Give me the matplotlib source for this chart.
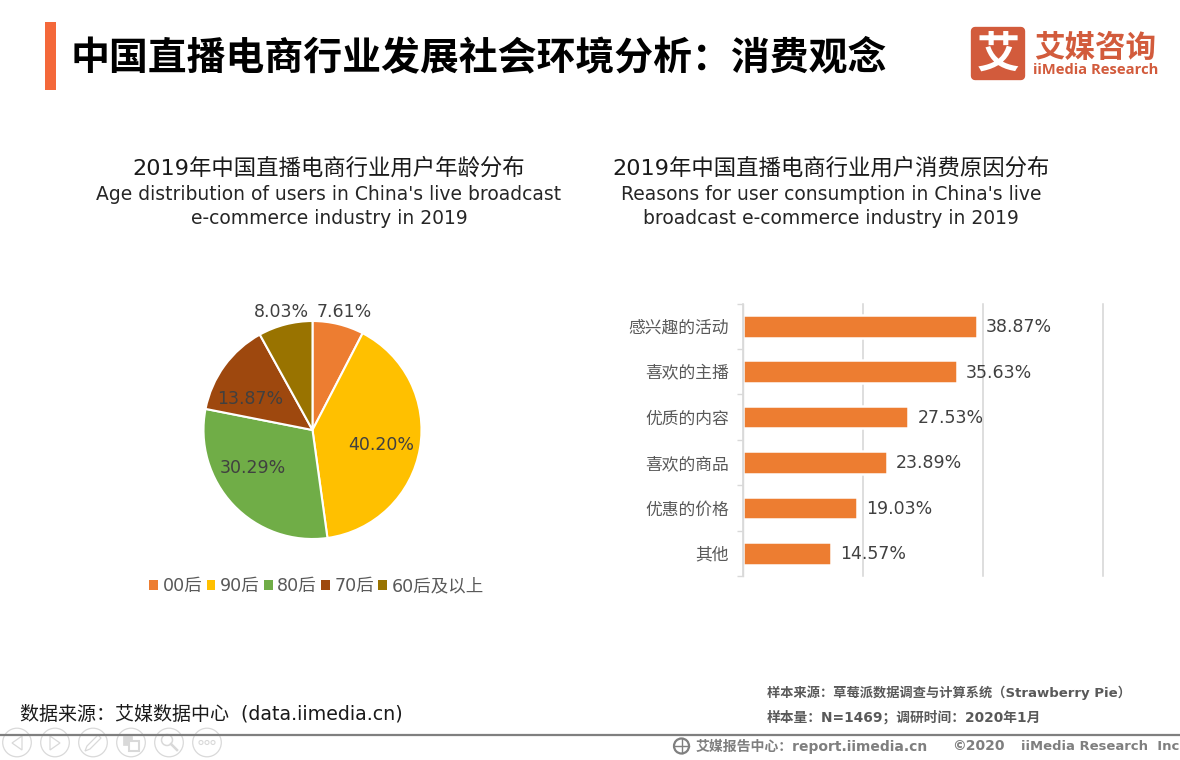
import matplotlib
matplotlib.use("Agg")
import matplotlib.pyplot as plt
from matplotlib.patches import Rectangle, FancyBboxPatch, Circle, Polygon

W, H = 1180, 760
LATIN_CJK = ['DejaVu Sans', 'Noto Sans CJK SC']
plt.rcParams['font.family'] = LATIN_CJK

# --- Data ---
AGE_LABELS = ["00后", "90后", "80后", "70后", "60后及以上"]
AGE_VALUES = [7.61, 40.20, 30.29, 13.87, 8.03]
AGE_COLORS = ["#ED7D31", "#FFC000", "#70AD47", "#9E480E", "#997300"]

REASONS = ["感兴趣的活动", "喜欢的主播", "优质的内容", "喜欢的商品", "优惠的价格", "其他"]
REASON_VALUES = [38.87, 35.63, 27.53, 23.89, 19.03, 14.57]

TITLE = "中国直播电商行业发展社会环境分析：消费观念"
LEFT_TITLE = ["2019年中国直播电商行业用户年龄分布",
              "Age distribution of users in China's live broadcast",
              "e-commerce industry in 2019"]
RIGHT_TITLE = ["2019年中国直播电商行业用户消费原因分布",
               "Reasons for user consumption in China's live",
               "broadcast e-commerce industry in 2019"]

# pie label centres in pixels
PIE_LABEL_POS = [(344, 312), (381, 445), (253, 468), (250, 399), (281, 312)]


def px_axes(fig, x0, y0, x1, y1, **kw):
    return fig.add_axes([x0 / W, 1 - y1 / H, (x1 - x0) / W, (y1 - y0) / H], **kw)


fig = plt.figure(figsize=(W / 100, H / 100), dpi=100, facecolor="white")

# overlay in pixel coords for header / footer
bg = fig.add_axes([0, 0, 1, 1])
bg.set_xlim(0, W)
bg.set_ylim(H, 0)
bg.axis("off")

# --- Header ---
bg.add_patch(Rectangle((45, 22), 11, 68, color="#F4683A", lw=0))
bg.text(71, 58, TITLE, fontsize=28, fontweight="bold", color="black",
        family="Noto Sans CJK SC", va="center", ha="left")

LOGO = "#D25B3C"
bg.add_patch(FancyBboxPatch((975, 31), 46, 45, boxstyle="round,pad=0,rounding_size=0",
                            color=LOGO, lw=6, joinstyle="round"))
bg.text(998, 55, "艾", fontsize=31, fontweight="bold", color="white",
        family="Noto Sans CJK SC", ha="center", va="center")
bg.text(1095, 48, "艾媒咨询", fontsize=22, fontweight="bold", color=LOGO,
        family="Noto Sans CJK SC", ha="center", va="center")
bg.text(1095.5, 70.5, "iiMedia Research", fontsize=10.6, fontweight="bold", color=LOGO,
        family="Open Sans", ha="center", va="center")

# --- Chart titles ---
for cx, lines in ((329, LEFT_TITLE), (831, RIGHT_TITLE)):
    bg.text(cx, 168, lines[0], fontsize=16.1, color="#1a1a1a", ha="center", va="center")
    bg.text(cx, 195, lines[1], fontsize=13.5, color="#262626", ha="center", va="center")
    bg.text(cx, 218, lines[2], fontsize=13.5, color="#262626", ha="center", va="center")

# --- Pie ---
R = 109
cx, cy = 312.5, 430
ax1 = px_axes(fig, cx - R, cy - R, cx + R, cy + R)
wedges, _ = ax1.pie(AGE_VALUES, colors=AGE_COLORS, startangle=90, counterclock=False,
                    radius=1.0, wedgeprops=dict(edgecolor="white", linewidth=1.5))
ax1.set_xlim(-1, 1)
ax1.set_ylim(-1, 1)
for val, (x, y) in zip(AGE_VALUES, PIE_LABEL_POS):
    bg.text(x, y, f"{val:.2f}%", fontsize=12.5, color="#404040", ha="center", va="center",
            zorder=5)
bg.set_zorder(3)
bg.patch.set_alpha(0)

leg = fig.legend(wedges, AGE_LABELS, ncol=5, loc="center",
                 bbox_to_anchor=(316.5 / W, 1 - 586 / H), frameon=False,
                 fontsize=12.6, labelcolor="#595959", handlelength=0.5, handleheight=0.5,
                 handletextpad=0.25, columnspacing=0.25, borderpad=0)
for h in leg.legend_handles:
    h.set_linewidth(0)

# --- Bars ---
ax2 = px_axes(fig, 743.3, 303.5, 1103.3, 576)
y_pos = list(range(len(REASONS)))
ax2.barh(y_pos, REASON_VALUES, height=0.5, color="#ED7D31", edgecolor="white", linewidth=1.8)
ax2.set_xlim(0, 60)
ax2.set_ylim(len(REASONS) - 0.5, -0.5)
ax2.set_axisbelow(True)
ax2.xaxis.grid(True, color="#D4D4D4", lw=1.1, clip_on=False)
ax2.set_xticks([0, 20, 40, 60])
ax2.tick_params(axis="x", length=0, labelbottom=False)
ax2.set_yticks([i - 0.5 for i in range(len(REASONS) + 1)])
ax2.set_yticklabels([])
ax2.tick_params(axis="y", which="major", length=4, width=1.0, color="#D9D9D9")
ax2.set_yticks(y_pos, minor=True)
ax2.set_yticklabels(REASONS, minor=True, fontsize=12.1, color="#595959", family="Noto Sans CJK SC")
ax2.tick_params(axis="y", which="minor", length=0, pad=10.3)
for s in ("top", "right", "bottom"):
    ax2.spines[s].set_visible(False)
ax2.spines["left"].set_color("#D9D9D9")
ax2.spines["left"].set_linewidth(1.0)
for y, v in zip(y_pos, REASON_VALUES):
    ax2.annotate(f"{v:.2f}%", (v, y), xytext=(6.5, -0.7), textcoords="offset points",
                 fontsize=12.5, color="#404040", ha="left", va="center")

# --- Footer ---
bg.text(20, 713.5, "数据来源：艾媒数据中心  (data.iimedia.cn)", fontsize=13.7, color="#1a1a1a",
        ha="left", va="center")
bg.text(767, 693, "样本来源：草莓派数据调查与计算系统（Strawberry Pie）", fontsize=9.5,
        fontweight="bold", color="#595959", ha="left", va="center")
bg.text(767, 717.5, "样本量：N=1469；调研时间：2020年1月", fontsize=9.9,
        fontweight="bold", color="#595959", ha="left", va="center")
bg.text(696, 746.5, "艾媒报告中心：report.iimedia.cn", fontsize=10, fontweight="bold",
        color="#7F7F7F", ha="left", va="center")
bg.text(952, 746.5, "©2020", fontsize=10, fontweight="bold", color="#7F7F7F", ha="left", va="center")
bg.text(1021, 746.5, "iiMedia Research  Inc", fontsize=9.45, fontweight="bold", color="#7F7F7F",
        ha="left", va="center")
# globe icon
bg.add_patch(Circle((681.5, 746), 7.5, fill=False, ec="#7F7F7F", lw=1.6))
bg.plot([674, 689], [746, 746], color="#7F7F7F", lw=1)
bg.plot([681.5, 681.5], [739, 753], color="#7F7F7F", lw=1)

# slide toolbar, the rule runs over it
ICON = "#D9D9D9"
for x in (17, 55, 93, 131, 169, 207):
    bg.add_patch(Circle((x, 742.5), 14.3, fill=False, ec=ICON, lw=0.9, zorder=4))
bg.add_patch(Polygon([(22, 736), (12, 743), (22, 750)], fill=False, ec=ICON, lw=0.9, zorder=5))
bg.add_patch(Polygon([(50, 736), (60, 743), (50, 750)], fill=False, ec=ICON, lw=0.9, zorder=5))
bg.add_patch(Polygon([(85, 751), (87, 746), (98, 735), (101, 738), (90, 749)], fill=False, ec=ICON,
                     lw=0.9, zorder=5))
bg.add_patch(Rectangle((123, 736), 9, 9, fc=ICON, ec=ICON, lw=0.5, zorder=5))
bg.add_patch(Rectangle((129, 741), 10, 10, fc="white", ec=ICON, lw=1.5, zorder=5))
bg.add_patch(Circle((167, 740), 5.5, fill=False, ec=ICON, lw=1.1, zorder=5))
bg.plot([171, 177], [744, 750], color=ICON, lw=1.8, zorder=5)
for x in (201, 207, 213):
    bg.add_patch(Circle((x, 742.5), 2, fill=False, ec=ICON, lw=0.8, zorder=5))
bg.plot([0, W], [735, 735], color="#7F7F7F", lw=1.6, solid_capstyle="butt", zorder=6)

fig.savefig("out.png", dpi=100)
